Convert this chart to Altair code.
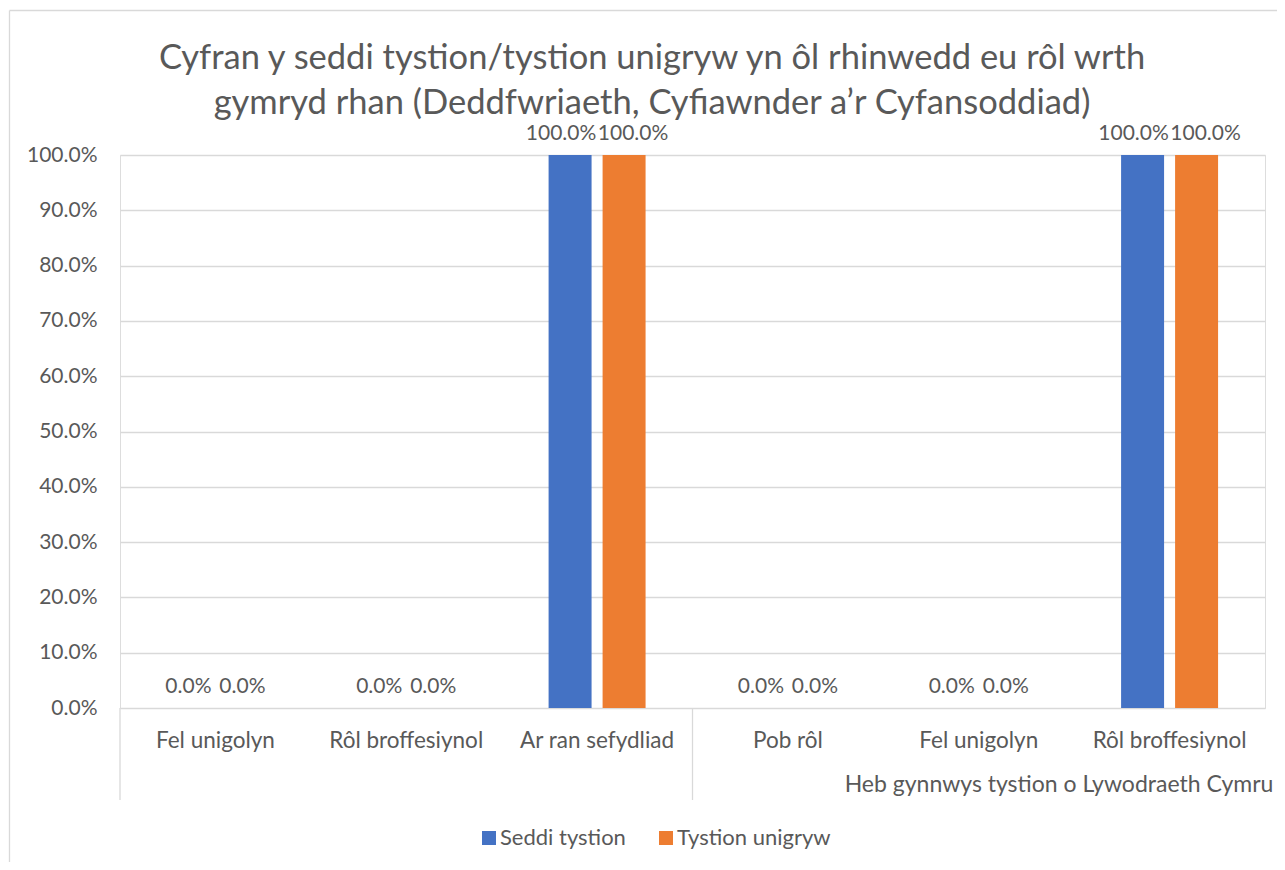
import altair as alt
import pandas as pd

categories = ["Fel unigolyn", "Rôl broffesiynol", "Ar ran sefydliad",
              "Pob rôl", "Fel unigolyn", "Rôl broffesiynol"]
group_label = "Heb gynnwys tystion o Lywodraeth Cymru"
series = ["Seddi tystion", "Tystion unigryw"]
seddi_tystion = [0.0, 0.0, 1.0, 0.0, 0.0, 1.0]
tystion_unigryw = [0.0, 0.0, 1.0, 0.0, 0.0, 1.0]
colors = ["#4472C4", "#ED7D31"]
title_lines = ["Cyfran y seddi tystion/tystion unigryw yn ôl rhinwedd eu rôl wrth",
               "gymryd rhan (Deddfwriaeth, Cyfiawnder a’r Cyfansoddiad)"]

rows = []
for i, c in enumerate(categories):
    rows.append({"idx": i, "cat": c, "series": series[0], "value": seddi_tystion[i]})
    rows.append({"idx": i, "cat": c, "series": series[1], "value": tystion_unigryw[i]})
df = pd.DataFrame(rows)

FONT = "Lato"
GRAY = "#595959"
LINE = "#D9D9D9"

label_expr = "[" + ",".join("'" + c + "'" for c in categories) + "][datum.value]"

x_axis = alt.Axis(labelExpr=label_expr, labelAngle=0, labelAlign="center",
                  labelBaseline="middle", domain=False, ticks=False, bandPosition=0.5,
                  labelPadding=32, labelFontSize=22.5, labelColor=GRAY,
                  labelFont=FONT, title=None)
x_scale = alt.Scale(paddingInner=0, paddingOuter=0)
y_axis = alt.Axis(values=[i / 10 for i in range(11)], format=".1%",
                  domain=False, ticks=False, gridColor=LINE, gridWidth=1.3,
                  labelPadding=23, labelFontSize=21, labelColor=GRAY,
                  labelFont=FONT, title=None)
y_scale = alt.Scale(domain=[0, 1])

x_enc = alt.X("idx:O", scale=x_scale, axis=x_axis)
y_enc = alt.Y("value:Q", scale=y_scale, axis=y_axis)
xoff = alt.XOffset("series:N", scale=alt.Scale(paddingInner=0.204, paddingOuter=0.869),
                   sort=series)

base = alt.Chart(df)

bars = base.mark_bar().encode(
    x=x_enc,
    xOffset=xoff,
    y=y_enc,
    color=alt.Color("series:N", sort=series,
                    scale=alt.Scale(domain=series, range=colors),
                    legend=alt.Legend(orient="none", legendX=358, legendY=672,
                                      direction="horizontal", title=None,
                                      symbolType="square", symbolSize=196,
                                      symbolStrokeWidth=0, labelFontSize=22,
                                      labelColor=GRAY, labelFont=FONT,
                                      labelOffset=0, columnPadding=29, symbolOffset=0)),
)


def value_labels(ser, val, dx):
    return base.transform_filter(
        (alt.datum.series == ser) & (alt.datum.value == val)
    ).mark_text(baseline="middle", dy=-21, dx=dx, fontSize=21, color=GRAY, font=FONT).encode(
        x=x_enc,
        xOffset=xoff,
        y=y_enc,
        text=alt.Text("value:Q", format=".1%"),
    )


labels = [
    value_labels(series[0], 0.0, 0),
    value_labels(series[1], 0.0, 0),
    value_labels(series[0], 1.0, -9),
    value_labels(series[1], 1.0, 9),
]

sep_df = pd.DataFrame({"idx": [0, 3]})
seps = alt.Chart(sep_df).mark_rule(color=LINE, strokeWidth=1.3).encode(
    x=alt.X("idx:O", bandPosition=0, scale=x_scale, axis=x_axis),
    y=alt.value(553),
    y2=alt.value(645),
)

grp_df = pd.DataFrame({"label": [group_label]})
grp = alt.Chart(grp_df).mark_text(fontSize=23, color=GRAY, font=FONT, baseline="middle").encode(
    x=alt.value(939),
    y=alt.value(630),
    text="label:N",
)

title_df = pd.DataFrame({"line": title_lines})


def title_line(i, ypos):
    return alt.Chart(title_df).transform_filter(
        alt.datum.line == title_lines[i]
    ).mark_text(fontSize=34.5, color=GRAY, font=FONT, baseline="middle").encode(
        x=alt.value(532),
        y=alt.value(ypos),
        text="line:N",
    )


border_df = pd.DataFrame({"k": ["border"]})
border_top = alt.Chart(border_df).mark_rule(color=LINE, strokeWidth=1.3).encode(
    x=alt.value(-110.5), x2=alt.value(1160), y=alt.value(-144.5))
border_left = alt.Chart(border_df).mark_rule(color=LINE, strokeWidth=1.3).encode(
    x=alt.value(-110.5), y=alt.value(-144.5), y2=alt.value(720))

chart = alt.layer(border_top, border_left, bars, seps, *labels, grp,
                  title_line(0, -96), title_line(1, -51)).properties(
    width=1145,
    height=553,
    autosize=alt.AutoSizeParams(type="none"),
    padding={"left": 112, "top": 147, "right": 12, "bottom": 154},
).configure_view(stroke=None).configure(background="white")

chart.save("out.html", embed_options={"renderer": "svg", "actions": False})
